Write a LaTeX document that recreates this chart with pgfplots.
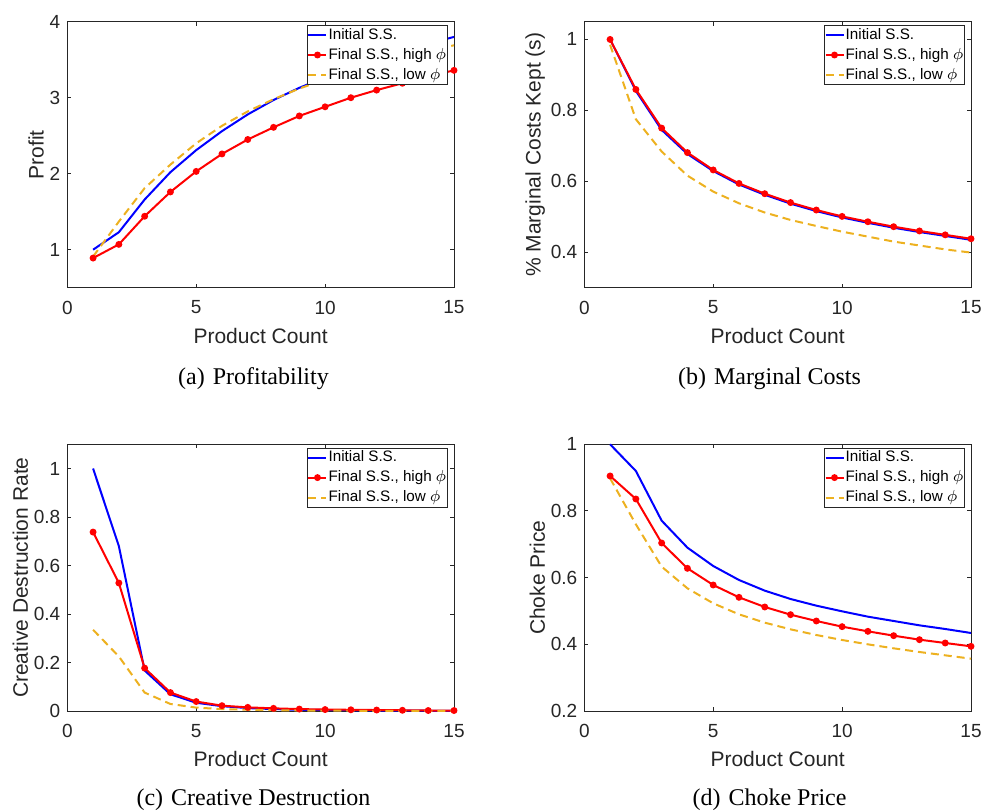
\documentclass[border=0pt]{standalone}
\usepackage{fontspec}
\setmainfont{Liberation Sans}
\newfontfamily\capfont{Liberation Serif}
\usepackage{pgfplots}
\usepackage{pgfplotstable}
\pgfplotsset{compat=1.18}

\definecolor{axgray}{rgb}{0.15,0.15,0.15}
\definecolor{mlyellow}{rgb}{0.929,0.694,0.125}

\pgfplotstableread{
n init high low
1 1.00 0.89 0.91
2 1.23 1.07 1.37
3 1.66 1.44 1.81
4 2.02 1.76 2.12
5 2.31 2.03 2.40
6 2.56 2.26 2.63
7 2.78 2.45 2.82
8 2.97 2.61 2.98
9 3.13 2.76 3.12
10 3.27 2.88 3.24
11 3.40 3.00 3.35
12 3.51 3.10 3.44
13 3.61 3.19 3.53
14 3.71 3.28 3.61
15 3.80 3.36 3.69
}\profit

\pgfplotstableread{
n init high low
1 1.000 1.000 0.985
2 0.855 0.859 0.775
3 0.745 0.750 0.684
4 0.677 0.681 0.616
5 0.629 0.632 0.571
6 0.591 0.594 0.538
7 0.562 0.565 0.512
8 0.537 0.540 0.491
9 0.516 0.519 0.474
10 0.498 0.501 0.458
11 0.483 0.486 0.444
12 0.469 0.472 0.430
13 0.457 0.460 0.419
14 0.446 0.449 0.408
15 0.435 0.438 0.399
}\mcost

\pgfplotstableread{
n init high low
1 1.000 0.738 0.335
2 0.680 0.528 0.225
3 0.167 0.177 0.076
4 0.069 0.076 0.029
5 0.034 0.039 0.014
6 0.020 0.022 0.008
7 0.012 0.015 0.005
8 0.008 0.011 0.003
9 0.005 0.008 0.002
10 0.004 0.006 0.002
11 0.003 0.005 0.001
12 0.002 0.004 0.001
13 0.002 0.003 0.001
14 0.001 0.002 0.001
15 0.001 0.002 0.001
}\cdest

\pgfplotstableread{
n init high low
1 1.000 0.905 0.898
2 0.920 0.836 0.760
3 0.771 0.704 0.633
4 0.690 0.628 0.568
5 0.635 0.578 0.523
6 0.593 0.541 0.490
7 0.561 0.512 0.465
8 0.536 0.489 0.445
9 0.516 0.470 0.428
10 0.499 0.453 0.413
11 0.483 0.439 0.400
12 0.470 0.426 0.388
13 0.457 0.414 0.377
14 0.446 0.404 0.367
15 0.434 0.394 0.357
}\choke

\pgfplotsset{
  panel/.style={
    scale only axis, width=193.35pt, height=133pt,
    xmin=0, xmax=15, xtick={0,5,10,15},
    clip=false,
    axis line style={draw=axgray, line width=0.5pt},
    tick style={draw=axgray, line width=0.5pt},
    major tick length=2pt, tick align=inside,
    ticklabel style={font=\fontsize{9.5}{11}\selectfont, text=axgray},
    xticklabel style={yshift=-3pt},
    label style={font=\fontsize{10.5}{12}\selectfont, text=axgray},
    ylabel shift=-4pt,
    xlabel={Product Count},
    /pgf/number format/assume math mode=true,
    legend style={at={(rel axis cs:1,1)}, anchor=north east,
      xshift=-3.1pt, yshift=-1.6pt, draw=axgray, line width=0.5pt,
      inner sep=0pt, row sep=0.4pt,
      font=\fontsize{7.6}{9}\selectfont,
      nodes={text height=5.6pt, text depth=1.6pt, inner ysep=1.2pt, inner xsep=0.6pt}},
    legend cell align=left,
    legend image code/.code={\draw[mark repeat=2,mark phase=2,##1] plot coordinates {(0pt,0pt) (4.5pt,0pt) (9pt,0pt)};},
  },
  sinit/.style={blue, line width=1pt, mark=none},
  shigh/.style={red, line width=1pt, mark=*, mark size=1.2pt, mark options={solid, fill=red}},
  slow/.style={mlyellow, line width=1pt, mark=none, dash pattern=on 4pt off 2.5pt},
}

\begin{document}
\begin{tikzpicture}
\path[use as bounding box] (0,0) rectangle (492pt,405pt);

\begin{axis}[panel, at={(33.65pt,261.15pt)}, anchor=south west,
  ymin=0.5, ymax=4, ytick={1,2,3,4}, ylabel={Profit}]
\addplot[sinit] table[x=n, y=init] {\profit};
\addlegendentry{Initial S.S.}
\addplot[shigh] table[x=n, y=high] {\profit};
\addlegendentry{Final S.S., high $\phi$}
\addplot[slow] table[x=n, y=low] {\profit};
\addlegendentry{Final S.S., low $\phi$}
\end{axis}

\begin{axis}[panel, at={(292.15pt,261.15pt)}, anchor=south west,
  ymin=0.3, ymax=1.05, ytick={0.4,0.6,0.8,1}, ylabel={\% Marginal Costs Kept (s)}]
\addplot[sinit] table[x=n, y=init] {\mcost};
\addlegendentry{Initial S.S.}
\addplot[shigh] table[x=n, y=high] {\mcost};
\addlegendentry{Final S.S., high $\phi$}
\addplot[slow] table[x=n, y=low] {\mcost};
\addlegendentry{Final S.S., low $\phi$}
\end{axis}

\begin{axis}[panel, at={(33.65pt,49.5pt)}, anchor=south west, height=133.35pt,
  ymin=0, ymax=1.1, ytick={0,0.2,0.4,0.6,0.8,1}, ylabel={Creative Destruction Rate}]
\addplot[sinit] table[x=n, y=init] {\cdest};
\addlegendentry{Initial S.S.}
\addplot[shigh] table[x=n, y=high] {\cdest};
\addlegendentry{Final S.S., high $\phi$}
\addplot[slow] table[x=n, y=low] {\cdest};
\addlegendentry{Final S.S., low $\phi$}
\end{axis}

\begin{axis}[panel, at={(292.15pt,49.5pt)}, anchor=south west, height=133.35pt,
  ymin=0.2, ymax=1, ytick={0.2,0.4,0.6,0.8,1}, ylabel={Choke Price}]
\addplot[sinit] table[x=n, y=init] {\choke};
\addlegendentry{Initial S.S.}
\addplot[shigh] table[x=n, y=high] {\choke};
\addlegendentry{Final S.S., high $\phi$}
\addplot[slow] table[x=n, y=low] {\choke};
\addlegendentry{Final S.S., low $\phi$}
\end{axis}

\node[anchor=base, font=\capfont\fontsize{12}{14}\selectfont] at (126.75pt,212.7pt) {(a)\hspace{4pt}Profitability};
\node[anchor=base, font=\capfont\fontsize{12}{14}\selectfont] at (384.75pt,212.7pt) {(b)\hspace{4pt}Marginal Costs};
\node[anchor=base, font=\capfont\fontsize{12}{14}\selectfont] at (126.75pt,2.3pt) {(c)\hspace{4pt}Creative Destruction};
\node[anchor=base, font=\capfont\fontsize{12}{14}\selectfont] at (384.75pt,2.3pt) {(d)\hspace{4pt}Choke Price};
\end{tikzpicture}
\end{document}
